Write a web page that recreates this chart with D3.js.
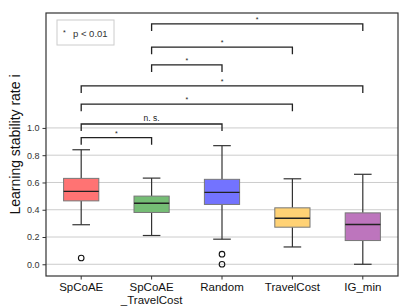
<!DOCTYPE html>
<html>
<head>
<meta charset="utf-8">
<script src="https://cdn.jsdelivr.net/npm/d3@7"></script>
<style>
  body { margin: 0; background: #fff; }
  svg { display: block; font-family: "Liberation Sans", Arial, sans-serif; }
</style>
</head>
<body>
<svg id="chart" width="399" height="308"></svg>
<script>
// categories and box stats
var categories = ["SpCoAE", "SpCoAE\n_TravelCost", "Random", "TravelCost", "IG_min"];
var whiskerLow = [0.29, 0.211, 0.184, 0.127, 0.0];
var q1 = [0.465, 0.38, 0.439, 0.272, 0.174];
var median = [0.535, 0.448, 0.527, 0.338, 0.292];
var q3 = [0.63, 0.5, 0.623, 0.414, 0.377];
var whiskerHigh = [0.84, 0.632, 0.87, 0.627, 0.66];
var outliers = [[0.046], [], [0.074, 0.0], [], []];
var colors = ["#ff7373", "#75bd75", "#7373ff", "#ffd275", "#bd75bd"];

// significance brackets: pair of category indexes, level, label
var pairA = [0, 0, 0, 0, 1, 1, 1];
var pairB = [1, 2, 3, 4, 2, 3, 4];
var levels = [0.929, 1.029, 1.174, 1.309, 1.463, 1.593, 1.763];
var marks = ["*", "n. s.", "*", "*", "*", "*", "*"];

var yTicks = [0.0, 0.2, 0.4, 0.6, 0.8, 1.0];

var svg = d3.select("#chart");
var margin = {top: 13, right: 1, bottom: 32, left: 46};
var width = 399 - margin.left - margin.right;
var height = 308 - margin.top - margin.bottom;

var g = svg.append("g")
    .attr("transform", "translate(" + margin.left + "," + margin.top + ")");

var x = d3.scaleBand()
    .domain(d3.range(categories.length))
    .range([0, width]);

var y = d3.scaleLinear()
    .domain([-0.086, 1.843])
    .range([height, 0]);

var cx = function (i) { return x(i) + x.bandwidth() / 2; };
var boxW = x.bandwidth() * 0.5;

// grid
g.selectAll(".grid")
    .data(yTicks)
    .enter().append("line")
    .attr("x1", 0).attr("x2", width)
    .attr("y1", function (d) { return y(d); })
    .attr("y2", function (d) { return y(d); })
    .attr("stroke", "#cccccc")
    .attr("stroke-width", 1);

// y axis
var yAxis = g.append("g")
    .call(d3.axisLeft(y).tickValues(yTicks).tickFormat(d3.format(".1f")).tickSize(3.5).tickPadding(3));
yAxis.select(".domain").remove();
yAxis.selectAll("line").attr("stroke", "#333");
yAxis.selectAll("text").attr("font-size", 9).attr("fill", "#333");

// x axis
var xAxis = g.append("g")
    .attr("transform", "translate(0," + height + ")")
    .call(d3.axisBottom(x).tickSize(3.5).tickPadding(3).tickFormat(""));
xAxis.select(".domain").remove();
xAxis.selectAll("line").attr("stroke", "#333");
xAxis.selectAll(".tick").each(function (d) {
    var lines = categories[d].split("\n");
    var t = d3.select(this).append("text")
        .attr("fill", "#111")
        .attr("font-size", 11.5)
        .attr("text-anchor", "middle");
    lines.forEach(function (l, k) {
        t.append("tspan").attr("x", 0).attr("y", 15 + k * 12.5).text(l);
    });
});

// frame
g.append("rect")
    .attr("width", width).attr("height", height)
    .attr("fill", "none").attr("stroke", "#333").attr("stroke-width", 1.2);

// boxes
var boxes = g.selectAll(".box")
    .data(categories)
    .enter().append("g");

boxes.append("line")
    .attr("x1", function (d, i) { return cx(i); })
    .attr("x2", function (d, i) { return cx(i); })
    .attr("y1", function (d, i) { return y(whiskerLow[i]); })
    .attr("y2", function (d, i) { return y(q1[i]); })
    .attr("stroke", "#333").attr("stroke-width", 1.2);
boxes.append("line")
    .attr("x1", function (d, i) { return cx(i); })
    .attr("x2", function (d, i) { return cx(i); })
    .attr("y1", function (d, i) { return y(q3[i]); })
    .attr("y2", function (d, i) { return y(whiskerHigh[i]); })
    .attr("stroke", "#333").attr("stroke-width", 1.2);
[whiskerLow, whiskerHigh].forEach(function (arr) {
    boxes.append("line")
        .attr("x1", function (d, i) { return cx(i) - boxW / 4; })
        .attr("x2", function (d, i) { return cx(i) + boxW / 4; })
        .attr("y1", function (d, i) { return y(arr[i]); })
        .attr("y2", function (d, i) { return y(arr[i]); })
        .attr("stroke", "#333").attr("stroke-width", 1.2);
});
boxes.append("rect")
    .attr("x", function (d, i) { return cx(i) - boxW / 2; })
    .attr("y", function (d, i) { return y(q3[i]); })
    .attr("width", boxW)
    .attr("height", function (d, i) { return y(q1[i]) - y(q3[i]); })
    .attr("fill", function (d, i) { return colors[i]; })
    .attr("stroke", "#777").attr("stroke-width", 1);
boxes.append("line")
    .attr("x1", function (d, i) { return cx(i) - boxW / 2; })
    .attr("x2", function (d, i) { return cx(i) + boxW / 2; })
    .attr("y1", function (d, i) { return y(median[i]); })
    .attr("y2", function (d, i) { return y(median[i]); })
    .attr("stroke", "#222").attr("stroke-width", 1.4);

boxes.each(function (d, i) {
    d3.select(this).selectAll("circle")
        .data(outliers[i])
        .enter().append("circle")
        .attr("cx", cx(i))
        .attr("cy", function (v) { return y(v); })
        .attr("r", 2.8)
        .attr("fill", "none")
        .attr("stroke", "#111").attr("stroke-width", 1.1);
});

// brackets
var drop = 0.052;
levels.forEach(function (lv, k) {
    var xa = cx(pairA[k]), xb = cx(pairB[k]);
    g.append("path")
        .attr("d", "M" + xa + "," + y(lv - drop) + "V" + y(lv) + "H" + xb + "V" + y(lv - drop))
        .attr("fill", "none").attr("stroke", "#222").attr("stroke-width", 1.3);
    g.append("text")
        .attr("x", (xa + xb) / 2)
        .attr("y", marks[k] == "*" ? y(lv) - 2 : y(lv) - 3)
        .attr("text-anchor", "middle")
        .attr("font-size", marks[k] == "*" ? 7 : 8.5)
        .attr("fill", "#222")
        .text(marks[k]);
});

// legend
var legend = g.append("g").attr("transform", "translate(11,7)");
legend.append("rect")
    .attr("width", 57).attr("height", 25)
    .attr("fill", "#fff").attr("stroke", "#cccccc").attr("stroke-width", 1);
legend.append("text")
    .attr("x", 6).attr("y", 15)
    .attr("font-size", 7).attr("fill", "#222").text("*");
legend.append("text")
    .attr("x", 16).attr("y", 16.5)
    .attr("font-size", 9.5).attr("fill", "#333").text("p < 0.01");

// y label
svg.append("text")
    .attr("transform", "translate(20," + (margin.top + height / 2) + ") rotate(-90)")
    .attr("text-anchor", "middle")
    .attr("font-size", 14)
    .attr("fill", "#111")
    .text("Learning stability rate i");
</script>
</body>
</html>
